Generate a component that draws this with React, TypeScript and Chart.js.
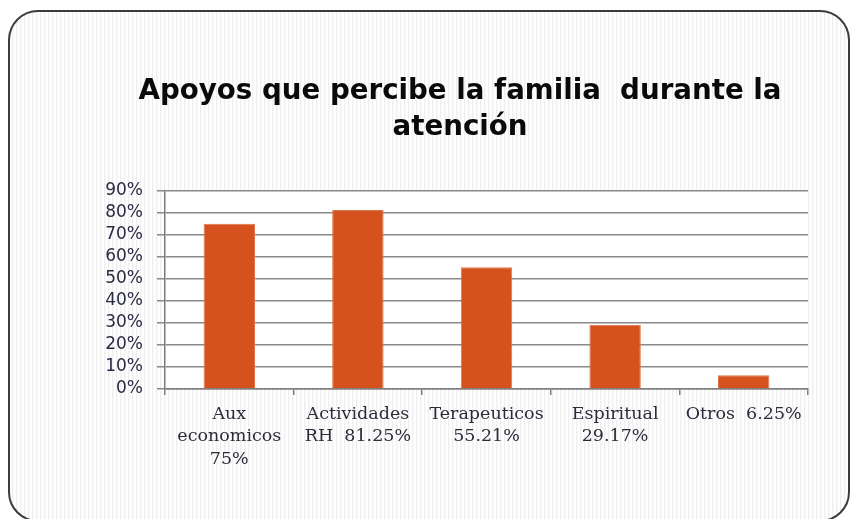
import { useEffect, useRef } from 'react';
import { Chart, registerables } from 'chart.js';

Chart.register(...registerables);

const categories: string[][] = [
  ['Aux', 'economicos', '75%'],
  ['Actividades', 'RH  81.25%'],
  ['Terapeuticos', '55.21%'],
  ['Espiritual', '29.17%'],
  ['Otros  6.25%'],
];
const values: number[] = [75, 81.25, 55.21, 29.17, 6.25];
const titleLines: string[] = ['Apoyos que percibe la familia  durante la', 'atención'];
const yMax = 90;
const yStep = 10;

const plotBg = {
  id: 'plotBg',
  beforeDraw(chart: any) {
    const { ctx, chartArea: a } = chart;
    ctx.save();
    ctx.fillStyle = '#ffffff';
    ctx.fillRect(a.left, a.top, a.right - a.left, a.bottom - a.top);
    ctx.restore();
  },
};

// shift the title block so that it is centred like the reference
const titleShift = {
  id: 'titleShift',
  afterLayout(chart: any) {
    const t = chart.titleBlock;
    if (t) {
      t.left += 31;
      t.right += 31;
    }
  },
};

export default function App() {
  const ref = useRef<HTMLCanvasElement | null>(null);
  useEffect(() => {
    if (!ref.current) return;
    const chart = new Chart(ref.current, {
      type: 'bar',
      data: {
        labels: categories,
        datasets: [
          {
            data: values,
            backgroundColor: '#d5521e',
            borderColor: '#e2764c',
            borderWidth: 1,
            barPercentage: 0.4,
            categoryPercentage: 1,
          },
        ],
      },
      options: {
        animation: false,
        responsive: false,
        layout: { padding: { left: 40, right: 40, top: 0, bottom: 0 } },
        plugins: {
          legend: { display: false },
          tooltip: { enabled: false },
          title: {
            display: true,
            text: titleLines,
            color: '#0a0a0a',
            font: { family: 'DejaVu Sans', size: 27.7, weight: 'bold', lineHeight: 1.33 },
            padding: { top: 61, bottom: 44 },
          },
        },
        scales: {
          x: {
            grid: { display: true, drawOnChartArea: false, tickLength: 6, color: '#808080', lineWidth: 1.5 },
            border: { display: true, color: '#808080', width: 1.5 },
            ticks: {
              color: '#2b2b3a',
              font: { family: 'DejaVu Serif', size: 17.5, lineHeight: 1.29 },
              padding: 8,
              maxRotation: 0,
              autoSkip: false,
            },
            afterFit(scale: any) {
              scale.height = 131;
            },
          },
          y: {
            min: 0,
            max: yMax,
            grid: { color: '#8a8a8a', lineWidth: 1.5, tickLength: 8 },
            border: { display: true, color: '#7a7a7a', width: 1.5 },
            ticks: {
              stepSize: yStep,
              autoSkip: false,
              color: '#2b2b45',
              font: { family: 'DejaVu Sans', size: 17 },
              padding: 14,
              callback: (v: any) => v + '%',
            },
            afterFit(scale: any) {
              scale.width = 115;
            },
          },
        },
      },
      plugins: [plotBg, titleShift],
    });
    return () => chart.destroy();
  }, []);

  return (
    <div
      style={{
        position: 'fixed',
        left: 8,
        top: 10,
        width: 842,
        height: 512,
        boxSizing: 'border-box',
        border: '2px solid #3c3c3c',
        borderRadius: 30,
        overflow: 'hidden',
        background:
          'repeating-linear-gradient(90deg, #fefefe 0px, #fefefe 2px, #efefef 2px, #efefef 3px, #f9f9f9 3px, #f9f9f9 4px)',
      }}
    >
      <canvas ref={ref} width={838} height={508} style={{ position: 'absolute', left: 0, top: 0 }} />
    </div>
  );
}
